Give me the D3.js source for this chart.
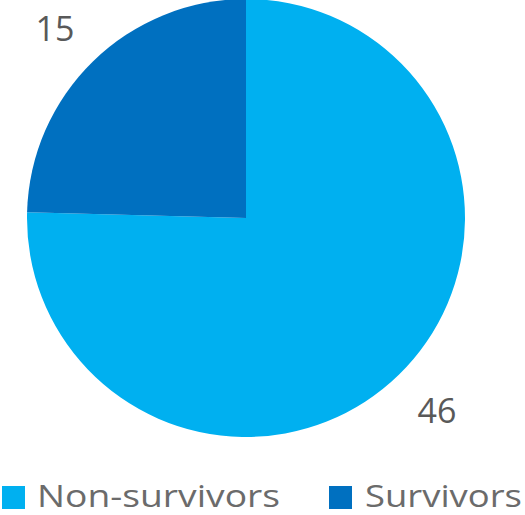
<!DOCTYPE html>
<html><head><meta charset="utf-8">
<script src="https://cdn.jsdelivr.net/npm/d3@7"></script>
<style>body{margin:0;background:#fff}svg{display:block}</style>
</head><body>
<svg id="c" width="525" height="515"></svg>
<script>
const categories = ["Non-survivors", "Survivors"];
const values = [46, 15];
const colors = ["#00B0F0", "#0070C0"];

const svg = d3.select("#c");
const cx = 246, cy = 218, r = 219;
const font = "'Open Sans', 'Noto Sans', sans-serif";

const pie = d3.pie().sort(null).value(d => d.v);
const arcs = pie(categories.map((c, i) => ({c, v: values[i]})));
const arc = d3.arc().innerRadius(0).outerRadius(r);
const g = svg.append("g").attr("transform", `translate(${cx},${cy})`);
g.selectAll("path").data(arcs).enter().append("path")
  .attr("d", arc).attr("fill", (d, i) => colors[i]);

// data labels placed outside the slices
const labelPos = [[437, 423], [55, 41]];
arcs.forEach((d, i) => {
  svg.append("text").attr("x", labelPos[i][0]).attr("y", labelPos[i][1])
    .attr("text-anchor", "middle").attr("font-family", font)
    .attr("font-size", 34).attr("fill", "#595959").text(values[i]);
});

// legend
const leg = [{sx: 2, tx: 37, tw: 243}, {sx: 329, tx: 365, tw: 157}];
categories.forEach((c, i) => {
  svg.append("rect").attr("x", leg[i].sx).attr("y", 486).attr("width", 23).attr("height", 23)
    .attr("fill", colors[i]);
  svg.append("text").attr("x", leg[i].tx).attr("y", 507)
    .attr("font-family", font).attr("font-size", 31).attr("fill", "#6b6b6b").text(c)
    .attr("textLength", leg[i].tw).attr("lengthAdjust", "spacingAndGlyphs");
});
</script>
</body></html>
